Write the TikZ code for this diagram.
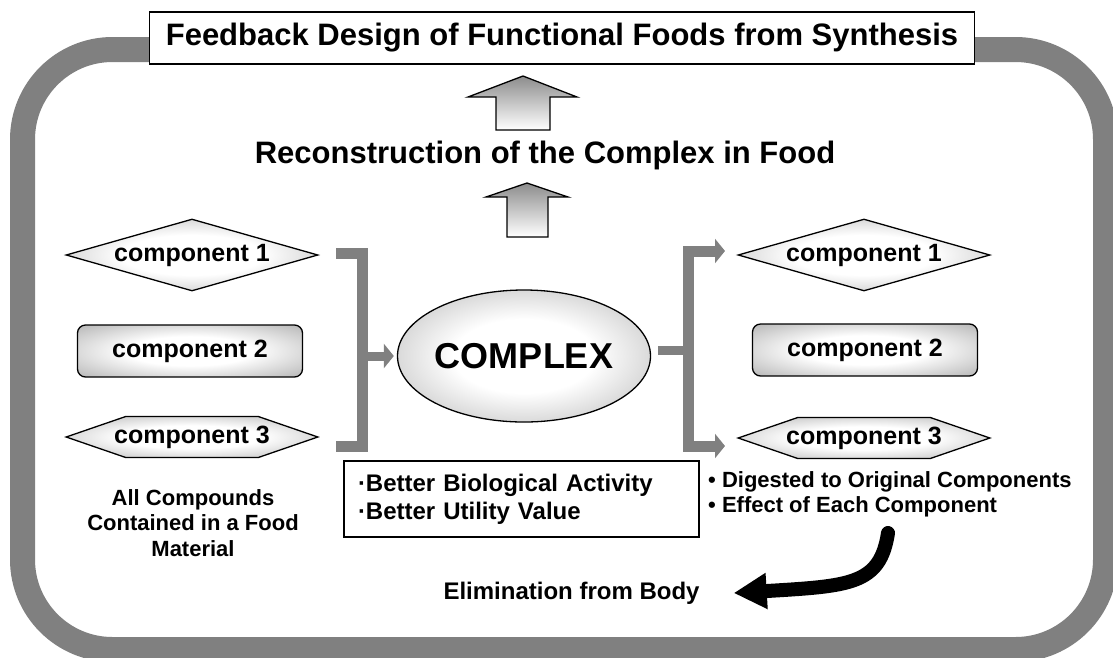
\documentclass[tikz,border=0pt]{standalone}
\usepackage{fontspec}
\setmainfont{Liberation Sans}
\usetikzlibrary{positioning,arrows.meta,shapes.geometric,shapes.symbols}
\definecolor{bandgray}{RGB}{128,128,128}
\definecolor{edgegray}{RGB}{140,140,140}

% light centre, grey rim
\pgfdeclareradialshading{softcentre}{\pgfpoint{0bp}{0bp}}{%
  color(0bp)=(white); color(14bp)=(white); color(48bp)=(edgegray); color(50bp)=(edgegray)}

\newcommand{\headfont}{\fontsize{31}{31}\selectfont\bfseries}
\newcommand{\compfont}{\fontsize{25}{25}\selectfont\bfseries}
\newcommand{\notefont}{\fontsize{22}{25.5}\selectfont\bfseries}

\begin{document}
\begin{tikzpicture}[x=1pt,y=-1pt,
  every node/.style={inner sep=0pt},
  shadebox/.style={draw,line width=1.3pt,shading=softcentre},
  compdia/.style={shadebox,diamond,aspect=3.5,minimum width=252pt,minimum height=72pt,font=\compfont},
  comprect/.style={shadebox,rectangle,rounded corners=8pt,minimum width=225pt,minimum height=52pt,font=\compfont},
  comphex/.style={shadebox,signal,signal to=west and east,signal pointer angle=38,
    inner xsep=-11.5pt,minimum height=41pt,font=\compfont},
  blockarrow/.style={draw,line width=1.3pt,top color=edgegray,bottom color=white},
  bracket/.style={bandgray,line width=11pt,line join=miter},
  graytip/.style={-{Triangle[length=10pt,width=24pt]}}
]
\useasboundingbox (0,0) rectangle (1113,657);

% outer frame
\draw[bandgray,line width=25pt,rounded corners=90pt] (22.5,49.5) rectangle (1105.5,649.5);

% heading and the two block arrows
\node[draw,fill=white,line width=1.5pt,minimum width=825pt,minimum height=52pt,font=\headfont]
  (title) at (562,38) {Feedback Design of Functional Foods from Synthesis};
\node[font=\headfont] (recon) at (545,155) {Reconstruction of the Complex in Food};
\path[blockarrow] (496,130) -- (496,97) -- (468,97) -- (523,76) -- (577,97) -- (550,97) -- (550,130) -- cycle;
\path[blockarrow] (507,237) -- (507,197) -- (486,197) -- (527,183) -- (568,197) -- (548,197) -- (548,237) -- cycle;

% components in the food material
\node[compdia] (lc1) at (192,255) {component 1};
\node[comprect] (lc2) at (190,351) {component 2};
\node[comphex] (lc3) at (192,437) {component 3};
\node[font=\notefont,align=center] (lnote) at (193,523) {All Compounds\\Contained in a Food\\Material};

% the complex
\node[shadebox,ellipse,minimum width=253pt,minimum height=132pt,font=\fontsize{36}{36}\selectfont\bfseries]
  (cplx) at (524,356) {COMPLEX};
\node[draw,line width=1.3pt,minimum width=355pt,minimum height=76pt,text width=327pt,align=left,
  font=\fontsize{24}{28}\selectfont\bfseries] (gain) at (521.5,499)
  {·Better Biological Activity\\·Better Utility Value};

% components after digestion
\node[compdia] (rc1) at (864,255) {component 1};
\node[comprect] (rc2) at (865,350) {component 2};
\node[comphex] (rc3) at (864,438) {component 3};
\node[font=\fontsize{22}{25}\selectfont\bfseries,align=left,anchor=west] (digest) at (708,494.5)
  {• Digested to Original Components\\• Effect of Each Component};

% brackets
\coordinate (lbtop) at (336,253);
\coordinate (lbbot) at (336,446);
\draw[bracket] (lbtop) -- ++(26,0) |- (lbbot);
\draw[bracket,line width=9pt,graytip,shorten >=3pt] (362,356) -- (cplx.west);
\coordinate (rbtop) at (725,251);
\coordinate (rbbot) at (725,446);
\draw[bracket,line width=9pt] ([shift={(7,-6)}]cplx.east) -- (688,350);
\draw[bracket,{Triangle[length=10pt,width=24pt]}-{Triangle[length=10pt,width=24pt]}]
  (rbtop) -- (688,251) -- (688,446) -- (rbbot);

% way out
\node[font=\fontsize{24}{24}\selectfont\bfseries] (elim) at (571.5,593) {Elimination from Body};
\coordinate (outstart) at (888,533);
\coordinate (outend) at ([xshift=34pt]elim.east);
\draw[line width=14pt,line cap=round,-{Triangle[length=33pt,width=34pt]}]
  (outstart) .. controls (880,585) and (850,586) .. (outend);
\end{tikzpicture}
\end{document}
